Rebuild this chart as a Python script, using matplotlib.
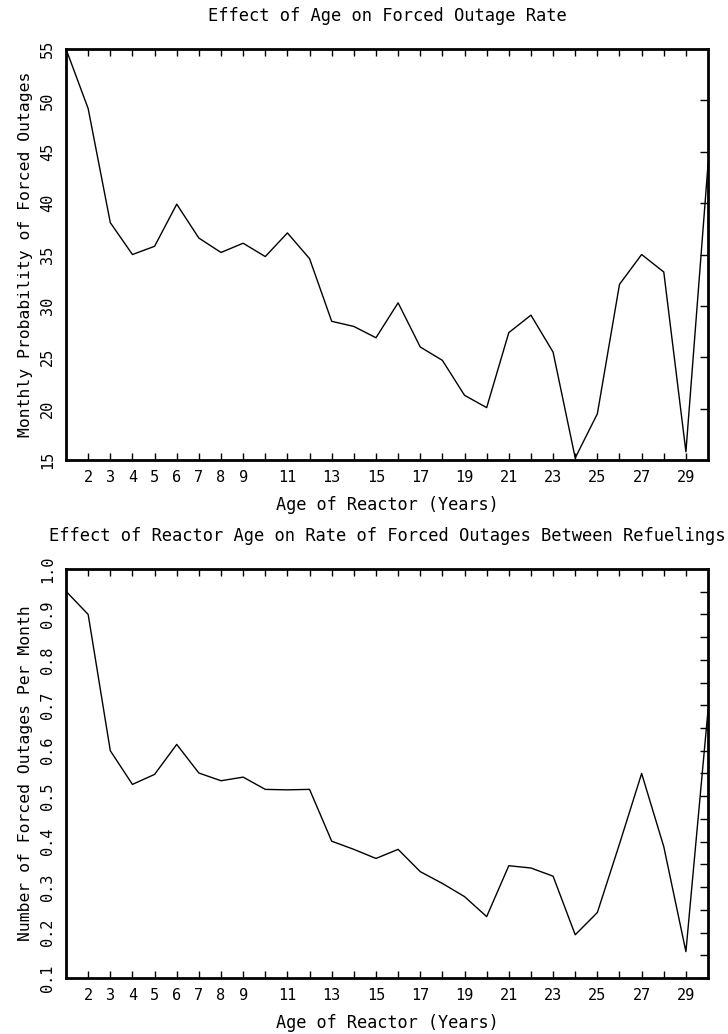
import numpy as np
import matplotlib
matplotlib.use("Agg")
import matplotlib.pyplot as plt
from matplotlib.ticker import FixedLocator, FixedFormatter, MultipleLocator

# reactor age in years
ages = list(range(1, 31))

# monthly probability of forced outages (%)
outage_prob = [55.0, 49.2, 38.1, 35.0, 35.8, 39.9, 36.6, 35.2, 36.1, 34.8,
               37.1, 34.6, 28.5, 28.0, 26.9, 30.3, 26.0, 24.7, 21.3, 20.1,
               27.4, 29.1, 25.5, 15.2, 19.5, 32.1, 35.0, 33.3, 15.8, 43.8]

# forced outages per month between refuelings
outages_per_month = [0.951, 0.900, 0.600, 0.526, 0.548, 0.614, 0.551, 0.534, 0.542, 0.515,
                     0.514, 0.515, 0.401, 0.383, 0.363, 0.383, 0.334, 0.308, 0.279, 0.235,
                     0.347, 0.342, 0.324, 0.195, 0.244, 0.395, 0.550, 0.389, 0.158, 0.690]

x_tick_pos = list(range(2, 30))
x_tick_labels = [str(a) if (a < 10 or a % 2 == 1) else "" for a in x_tick_pos]

plt.rcParams["font.family"] = ["DejaVu Sans Mono"]
plt.rcParams["font.size"] = 11

fig = plt.figure(figsize=(7.28, 10.34), dpi=100)
ax1 = fig.add_axes([0.0907, 0.5551, 0.8819, 0.3975])
ax2 = fig.add_axes([0.0907, 0.0542, 0.8819, 0.3955])


def style(ax, title, ylabel):
    ax.set_xlim(1, 30)
    ax.xaxis.set_major_locator(FixedLocator(x_tick_pos))
    ax.xaxis.set_major_formatter(FixedFormatter(x_tick_labels))
    ax.tick_params(axis="x", which="both", direction="in", top=True, bottom=True,
                   length=5, width=1, pad=7, labelsize=11)
    ax.tick_params(axis="y", which="both", direction="in", left=False, right=True,
                   labelleft=True, length=6, width=1, pad=8, labelsize=11)
    plt.setp(ax.get_yticklabels(), rotation=90, va="center")
    for s in ax.spines.values():
        s.set_linewidth(2)
    ax.set_title(title, pad=20, fontsize=12.3)
    ax.set_xlabel("Age of Reactor (Years)", labelpad=8, fontsize=12.2)
    ax.set_ylabel(ylabel, labelpad=5, fontsize=11.8)


# top panel: monthly probability
ax1.plot(ages, outage_prob, color="black", lw=1)
ax1.set_ylim(15, 55)
ax1.yaxis.set_major_locator(MultipleLocator(5))
style(ax1, "Effect of Age on Forced Outage Rate",
      "Monthly Probability of Forced Outages")

# bottom panel: outages per month
ax2.plot(ages, outages_per_month, color="black", lw=1)
ax2.set_ylim(0.1, 1.0)
ax2.yaxis.set_major_locator(MultipleLocator(0.1))
ax2.yaxis.set_minor_locator(MultipleLocator(0.05))
ax2.yaxis.set_major_formatter(plt.FormatStrFormatter("%.1f"))
style(ax2, "Effect of Reactor Age on Rate of Forced Outages Between Refuelings",
      "Number of Forced Outages Per Month")

fig.savefig("out.png", dpi=100)
